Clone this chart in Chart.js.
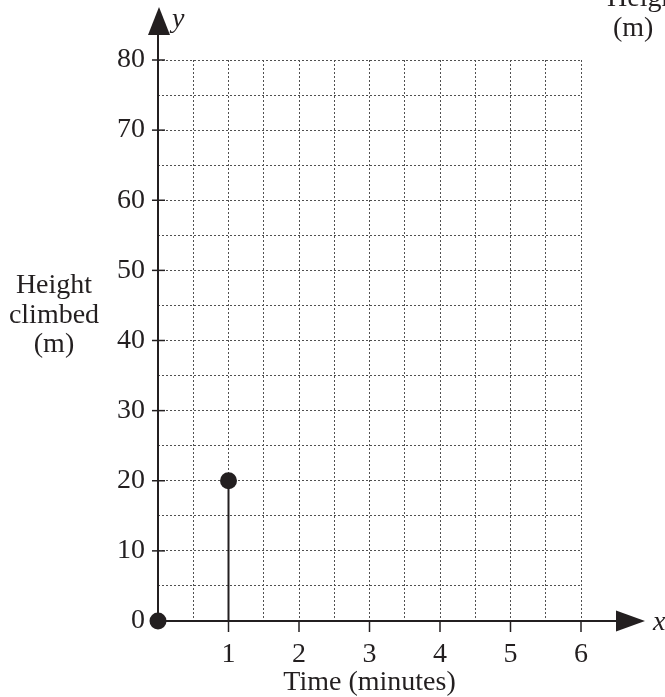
<!DOCTYPE html>
<html><head><meta charset="utf-8">
<script src="https://cdn.jsdelivr.net/npm/chart.js@4/dist/chart.umd.min.js"></script>
<style>html,body{margin:0;padding:0;background:#fff;overflow:hidden}#wrap{width:665px;height:697px;position:relative}</style>
</head><body><div id="wrap"><canvas id="c" width="665" height="697"></canvas></div>
<script>
// ---- data ----
const times = [0, 1];          // minutes
const heights = [0, 20];       // metres climbed
const xRange = [0, 6];
const xGridStep = 0.5;
const xLabelValues = [1, 2, 3, 4, 5, 6];
const yRange = [0, 80];
const yGridStep = 5;
const yLabelValues = [0, 10, 20, 30, 40, 50, 60, 70, 80];
const xTitle = 'Time (minutes)';
const yTitleLines = ['Height', 'climbed', '(m)'];
const cornerLines = ['Height', '(m)'];
const xAxisName = 'x';
const yAxisName = 'y';

const INK = '#231f20';
const GRID = '#505050';
const FONT = 'Liberation Serif';

const pointData = times.map((t, i) => ({x: t, y: heights[i]}));
const stemData = [{x: times[1], y: 0}, {x: times[1], y: heights[1]}];

const axesPlugin = {
  id: 'axesPlugin',
  beforeDatasetsDraw(chart) {
    const ctx = chart.ctx;
    const xs = chart.scales.x, ys = chart.scales.y;
    const x0 = xs.getPixelForValue(0), y0 = ys.getPixelForValue(0);
    const area = chart.chartArea;
    ctx.save();
    ctx.strokeStyle = INK; ctx.fillStyle = INK; ctx.lineWidth = 2; ctx.setLineDash([]);
    // y axis
    ctx.beginPath(); ctx.moveTo(x0, y0); ctx.lineTo(x0, area.top - 28); ctx.stroke();
    ctx.beginPath(); ctx.moveTo(x0 + 1, area.top - 53); ctx.lineTo(x0 - 10, area.top - 25); ctx.lineTo(x0 + 12, area.top - 25); ctx.closePath(); ctx.fill();
    // x axis
    ctx.beginPath(); ctx.moveTo(x0, y0); ctx.lineTo(area.right + 38, y0); ctx.stroke();
    ctx.beginPath(); ctx.moveTo(area.right + 64, y0); ctx.lineTo(area.right + 35, y0 - 10.5); ctx.lineTo(area.right + 35, y0 + 10.5); ctx.closePath(); ctx.fill();
    // tick marks
    ctx.lineWidth = 1.5;
    yLabelValues.forEach(v => { if (v === 0) return; const p = ys.getPixelForValue(v);
      ctx.beginPath(); ctx.moveTo(x0 - 6, p); ctx.lineTo(x0 + 7, p); ctx.stroke(); });
    xLabelValues.forEach(v => { const p = xs.getPixelForValue(v);
      ctx.beginPath(); ctx.moveTo(p, y0); ctx.lineTo(p, y0 + 11); ctx.stroke(); });
    // texts
    ctx.textAlign = 'center'; ctx.textBaseline = 'alphabetic';
    ctx.font = '28px "' + FONT + '"';
    const yb = [293, 322.5, 352];
    yTitleLines.forEach((t, i) => ctx.fillText(t, 54, yb[i]));
    ctx.textAlign = 'left';
    ctx.fillText(cornerLines[0], 607, 6);
    ctx.fillText(cornerLines[1], 613, 36);
    ctx.font = 'italic 28px "' + FONT + '"';
    ctx.fillText(yAxisName, x0 + 14, area.top - 33);
    ctx.fillText(xAxisName, area.right + 72, y0 + 9);
    ctx.restore();
  }
};

new Chart(document.getElementById('c'), {
  type: 'scatter',
  data: {
    datasets: [
      { data: pointData, pointRadius: 8.5, pointHoverRadius: 8.5, backgroundColor: INK, borderWidth: 0, clip: false, showLine: false },
      { data: stemData, showLine: true, pointRadius: 0, borderColor: INK, borderWidth: 2, clip: false }
    ]
  },
  options: {
    responsive: false, animation: false, devicePixelRatio: 1,
    layout: { padding: { left: 0, right: 84, top: 60, bottom: 0 } },
    plugins: { legend: { display: false }, tooltip: { enabled: false } },
    scales: {
      x: {
        type: 'linear', position: 'bottom', min: xRange[0], max: xRange[1],
        afterFit: s => { s.height = 76; },
        border: { display: false, dash: [2, 2] },
        grid: { color: GRID, lineWidth: 1, drawTicks: false },
        ticks: { stepSize: xGridStep, autoSkip: false, maxRotation: 0, padding: 17,
          color: INK, font: { family: FONT, size: 28 },
          callback: v => xLabelValues.includes(v) ? String(v) : '' },
        title: { display: true, text: xTitle, color: INK, font: { family: FONT, size: 28, lineHeight: 1 }, padding: 0 }
      },
      y: {
        type: 'linear', position: 'left', min: yRange[0], max: yRange[1],
        afterFit: s => { s.width = 158; },
        border: { display: false, dash: [2, 2] },
        grid: { color: GRID, lineWidth: 1, drawTicks: false },
        ticks: { stepSize: yGridStep, autoSkip: false, padding: 13,
          color: INK, font: { family: FONT, size: 28 },
          callback: v => yLabelValues.includes(v) ? String(v) : '' }
      }
    }
  },
  plugins: [axesPlugin]
});
</script></body></html>
